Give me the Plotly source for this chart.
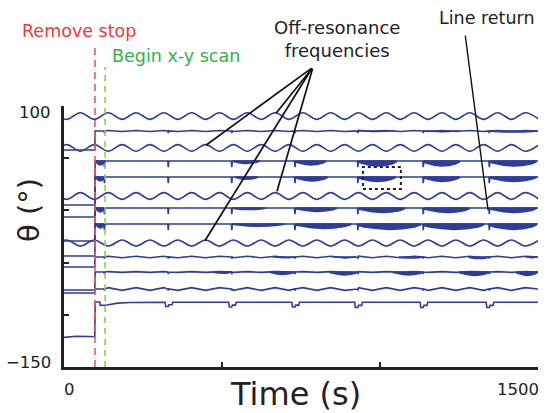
import plotly.graph_objects as go

# ---------------- data ----------------
x_ticks = [0, 500, 1000, 1500]
x_tick_labels = ["0", "", "", "1500"]
y_ticks = [-150, -100, -50, 0, 50, 100]
y_tick_labels = ["\u2212150", "", "", "", "", "100"]

t_remove_stop = 98
t_begin_scan = 130
line_return_t = [128, 330, 531, 731, 930, 1137, 1346]

# times of wave extremes (crest / trough)
wave_t = [-36, 8, 52, 96, 140, 184, 228, 272, 316, 360, 404, 448, 492, 536,
          580, 624, 668, 712, 756, 800, 844, 888, 932, 976, 1020, 1064, 1108,
          1152, 1196, 1240, 1284, 1328, 1372, 1416, 1460, 1504]
wave_sign = [1, -1, 1, -1, 1, -1, 1, -1, 1, -1, 1, -1, 1, -1, 1, -1, 1, -1,
             1, -1, 1, -1, 1, -1, 1, -1, 1, -1, 1, -1, 1, -1, 1, -1, 1, -1]

# off-resonance traces (wavy)
off_base = [90.4, 59.8, 13.8, -31.2]
off_amp = [3.2, 3.2, 3.2, 2.9]
off_phase = [1, -1, 1, -1]

# resonant traces: level before / after removing the stop
res_pre = [57.9, 5.2, -6.3, -29.3, -54.2, -43.7, -76.2, -79.1]
res_post = [76.1, 47.3, 32.0, 2.3, -13.0, -44.6, -59.0, -75.3]
res_spike = [2.0, 6.0, 6.0, 6.0, 6.0, 1.5, 2.0, 1.5]
res_wave_amp = [0.5, 0.0, 0.0, 0.0, 0.0, 0.7, 0.4, 1.3]

# noisy bands on resonant traces: (start s, end s, depth deg)
res_bands = [
    [(930, 1050, 1.2), (1137, 1253, 1.5), (1346, 1500, 2.0)],
    [(99, 130, 4.5), (531, 620, 3.0), (731, 830, 4.5), (930, 1053, 5.5), (1137, 1253, 5.5), (1346, 1496, 5.5)],
    [(99, 130, 4.5), (540, 615, 3.0), (731, 835, 4.5), (930, 1050, 5.0), (1137, 1253, 5.0), (1346, 1496, 5.0)],
    [(99, 130, 4.5), (531, 640, 2.5), (731, 865, 4.0), (930, 1080, 5.0), (1137, 1285, 5.0), (1346, 1496, 5.0)],
    [(99, 130, 4.5), (531, 700, 3.0), (731, 910, 5.0), (930, 1130, 6.0), (1137, 1330, 6.0), (1346, 1496, 6.0)],
    [(660, 725, 1.5), (850, 925, 1.5), (1060, 1135, 2.0), (1280, 1346, 2.5), (1460, 1500, 1.5)],
    [(470, 531, 2.0), (650, 731, 3.0), (840, 930, 3.5), (1040, 1137, 3.5), (1250, 1346, 4.0), (1430, 1500, 4.0)],
    [],
]

# bottom trace (with line-return dips)
tr13_t = [0, 40, 80, 97.5, 98.5, 113, 115, 135, 170, 210]
tr13_v = [-121.6, -120.6, -120.8, -121.0, -87.7, -87.7, -91.0, -90.6, -88.8, -88.2]
tr13_level = -88.0
dip13_t = [330, 531, 731, 930, 1137, 1346]
dip13_depth = [4.0, 4.5, 4.5, 5.0, 5.0, 5.0]

# dotted box (s, deg)
box_t = [946, 1066]
box_v = [20.5, 41.6]

# ---------------- styling ----------------
BLUE = "#2e3c9e"
W, H = 549, 413
ML, MR, MT, MB = 64, 11, 106, 46
PW, PH = W - ML - MR, H - MT - MB
FONT = "DejaVu Sans"


def px(xp):
    return (xp - ML) / PW


def py(yp):
    return (H - MB - yp) / PH


prof_f = [0.0, 0.1, 0.3, 0.5, 0.7, 0.9, 1.0]
prof_d = [0.35, 0.6, 0.85, 1.0, 0.9, 0.6, 0.25]

fig = go.Figure()


def add_line(xs, ys, shape="linear"):
    fig.add_trace(go.Scatter(x=xs, y=ys, mode="lines", hoverinfo="skip",
                             line=dict(color=BLUE, width=1.6, shape=shape,
                                       smoothing=1.0 if shape == "spline" else None)))


# off-resonance traces
for base, amp, ph in zip(off_base, off_amp, off_phase):
    ys = [base + ph * amp * s for s in wave_sign]
    add_line(wave_t, ys, "spline")

# resonant traces
for pre, post, spk, wamp, bands in zip(res_pre, res_post, res_spike, res_wave_amp, res_bands):
    pts = [(0, pre), (t_remove_stop - 0.5, pre), (t_remove_stop + 0.5, post)]
    if wamp > 0:
        for t, s in zip(wave_t, wave_sign):
            if t_remove_stop + 5 < t < 1500:
                pts.append((t, post + wamp * s))
    for lr in line_return_t:
        if lr > t_remove_stop + 5:
            pts += [(lr - 1.5, post), (lr, post - spk), (lr + 1.5, post)]
    pts.append((1500, post))
    pts.sort(key=lambda p: p[0])
    add_line([p[0] for p in pts], [p[1] for p in pts])
    for (t0, t1, d) in bands:
        xs = [t0, t1] + [t0 + f * (t1 - t0) for f in reversed(prof_f)]
        ys = [post + 0.7, post + 0.7] + [post - d * q for q in reversed(prof_d)]
        fig.add_trace(go.Scatter(x=xs, y=ys, mode="lines", fill="toself",
                                 fillcolor=BLUE, line=dict(width=0, color=BLUE),
                                 hoverinfo="skip"))

# bottom trace
pts = list(zip(tr13_t, tr13_v))
dip_dt = [-10, -8, 0, 2, 12, 14]
dip_f = [0, 1, 1, 0.6, 0.6, 0]
for dt0, dd in zip(dip13_t, dip13_depth):
    for a, f in zip(dip_dt, dip_f):
        pts.append((dt0 + a, tr13_level - dd * f))
pts.append((1500, tr13_level))
pts.sort(key=lambda p: p[0])
add_line([p[0] for p in pts], [p[1] for p in pts])

# ---------------- shapes ----------------
fig.add_shape(type="line", xref="x", yref="paper", x0=t_remove_stop, x1=t_remove_stop,
              y0=0, y1=py(48), line=dict(color="#f05a5a", width=1.6, dash="7px,5px"))
fig.add_shape(type="line", xref="x", yref="paper", x0=t_begin_scan, x1=t_begin_scan,
              y0=0, y1=py(67), line=dict(color="#9acd45", width=1.6, dash="6px,5px"))
fig.add_shape(type="rect", xref="x", yref="y", x0=box_t[0], x1=box_t[1],
              y0=box_v[0], y1=box_v[1], line=dict(color="#222", width=2, dash="dot"))

ann = []
# arrows to off-resonance traces
apex = (313, 67)
targets = [(449, 62.4), (671, 93.0), (674, 18.3), (446, -29.0)]
target_px = [(206, 145), (276, 113), (277, 191), (205, 241)]
for (tx, tv), (qx, qy) in zip(targets, target_px):
    ann.append(dict(x=tx, y=tv, xref="x", yref="y", text="", showarrow=True,
                    arrowhead=0, arrowwidth=1.7, arrowcolor="#111",
                    ax=apex[0] - qx, ay=apex[1] - qy, standoff=0))
# line return pointer
ann.append(dict(x=1342, y=0.2, xref="x", yref="y", text="", showarrow=True,
                arrowhead=0, arrowwidth=1.4, arrowcolor="#111",
                ax=465 - 488, ay=34 - 210, standoff=0))

# texts
ann += [
    dict(x=px(20), y=py(31), xref="paper", yref="paper", text="Remove stop",
         xanchor="left", yanchor="middle", showarrow=False,
         font=dict(family=FONT, size=17.5, color="#ee3a3a")),
    dict(x=px(110), y=py(56), xref="paper", yref="paper", text="Begin x-y scan",
         xanchor="left", yanchor="middle", showarrow=False,
         font=dict(family=FONT, size=17.5, color="#2eb34a")),
    dict(x=px(337), y=py(39), xref="paper", yref="paper",
         text="Off-resonance<br>frequencies", align="center",
         xanchor="center", yanchor="middle", showarrow=False,
         font=dict(family=FONT, size=18, color="#222")),
    dict(x=px(487), y=py(18), xref="paper", yref="paper", text="Line return",
         xanchor="center", yanchor="middle", showarrow=False,
         font=dict(family=FONT, size=17.5, color="#222")),
    dict(x=px(295), y=py(394), xref="paper", yref="paper", text="Time (s)",
         xanchor="center", yanchor="middle", showarrow=False,
         font=dict(family=FONT, size=32, color="#222")),
    dict(x=px(29), y=py(210), xref="paper", yref="paper", text="\u03b8 (\u00b0)",
         textangle=-90, xanchor="center", yanchor="middle", showarrow=False,
         font=dict(family=FONT, size=29, color="#222")),
]
# tick labels
for v, lab in zip(x_ticks, x_tick_labels):
    if lab:
        ann.append(dict(x=v, y=0, xref="x", yref="paper", text=lab, showarrow=False,
                        xanchor="center" if v == 0 else "right",
                        xshift=5 if v == 0 else 3, yanchor="middle", yshift=-22,
                        font=dict(family=FONT, size=16.5, color="#222")))
for v, lab in zip(y_ticks, y_tick_labels):
    if lab:
        ann.append(dict(x=0, y=v, xref="paper", yref="y", text=lab, showarrow=False,
                        xanchor="right", xshift=-11, yanchor="middle",
                        yshift=-6 if v == 100 else 5,
                        font=dict(family=FONT, size=16.5, color="#222")))

fig.update_layout(
    width=W, height=H,
    margin=dict(l=ML, r=MR, t=MT, b=MB),
    paper_bgcolor="white", plot_bgcolor="white",
    showlegend=False, annotations=ann,
    font=dict(family=FONT, color="#222"),
    xaxis=dict(range=[0, 1500], showline=True, linecolor="#222", linewidth=2.5,
               ticks="inside", ticklen=5, tickwidth=2, tickcolor="#222",
               tickvals=x_ticks, showticklabels=False, showgrid=False, zeroline=False),
    yaxis=dict(range=[-150, 100], showline=True, linecolor="#222", linewidth=2.5,
               ticks="inside", ticklen=5, tickwidth=2, tickcolor="#222",
               tickvals=y_ticks, showticklabels=False, showgrid=False, zeroline=False),
)

fig.write_html("out.html")
